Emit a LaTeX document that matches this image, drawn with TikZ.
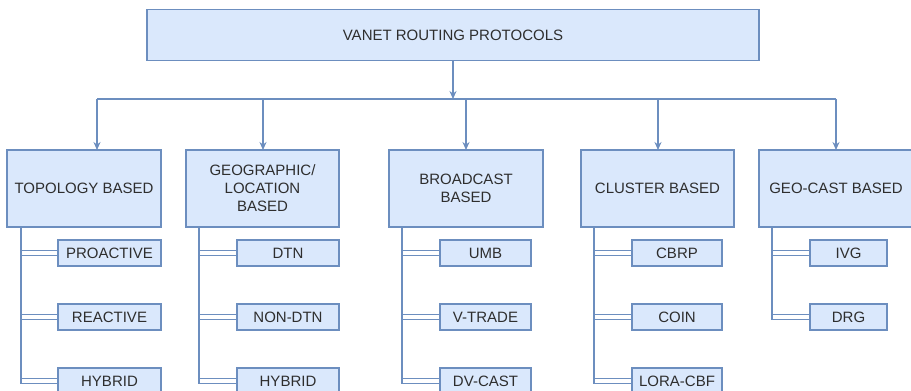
\documentclass[tikz,border=0pt]{standalone}
\usepackage{fontspec}
\setmainfont{Liberation Sans}
\usetikzlibrary{arrows.meta}
\definecolor{boxfill}{HTML}{DAE8FC}
\definecolor{boxline}{HTML}{6C8EBF}
\definecolor{txt}{HTML}{2E2E2E}
\begin{document}
\begin{tikzpicture}[x=1pt,y=-1pt,
  box/.style={draw=boxline, fill=boxfill, line width=1.2pt, text=txt,
    font=\fontsize{15}{18}\selectfont, align=center, inner sep=0pt, outer sep=0pt},
  top/.style={box, minimum width=612pt, minimum height=51pt},
  cat/.style={box, minimum width=154pt, minimum height=77pt},
  kid/.style={box, minimum height=26pt},
  ln/.style={draw=boxline, line width=1.3pt},
  arr/.style={ln, -{Stealth[length=8pt,width=7pt]}}]
\useasboundingbox (0,0) rectangle (911,391);
\clip (0,0) rectangle (911,391);
\fill[white] (0,0) rectangle (911,391);

\node[top] (root) at (453,35) {VANET ROUTING PROTOCOLS};

\node[cat] (topo) at (84,188.5) {TOPOLOGY BASED};
\node[cat, minimum width=153pt] (geo) at (262.5,188.5) {GEOGRAPHIC/\\LOCATION\\BASED};
\node[cat] (bc) at (466,188.5) {BROADCAST\\BASED};
\node[cat, minimum width=153pt] (cl) at (657.5,188.5) {CLUSTER BASED};
\node[cat] (gc) at (836,188.5) {GEO-CAST BASED};

% bus
\coordinate (bus) at (453,99);
\coordinate (b1) at (97,99);
\coordinate (b2) at (263,99);
\coordinate (b3) at (466,99);
\coordinate (b4) at (658,99);
\coordinate (b5) at (836,99);
\draw[arr] (root.south) -- (root.south |- bus);
\draw[ln] (b1) -- (b5);
\draw[arr] (b1) -- (b1 |- topo.north);
\draw[arr] (b2) -- (b2 |- geo.north);
\draw[arr] (b3) -- (b3 |- bc.north);
\draw[arr] (b4) -- (b4 |- cl.north);
\draw[arr] (b5) -- (b5 |- gc.north);

% children
\node[kid, minimum width=103pt] (t1) at (109.5,253) {PROACTIVE};
\node[kid, minimum width=103pt] (t2) at (109.5,317) {REACTIVE};
\node[kid, minimum width=103pt] (t3) at (109.5,381) {HYBRID};

\node[kid, minimum width=102pt] (g1) at (288,253) {DTN};
\node[kid, minimum width=102pt] (g2) at (288,317) {NON-DTN};
\node[kid, minimum width=102pt] (g3) at (288,381) {HYBRID};

\node[kid, minimum width=91pt] (c1) at (485.5,253) {UMB};
\node[kid, minimum width=91pt] (c2) at (485.5,317) {V-TRADE};
\node[kid, minimum width=91pt] (c3) at (485.5,381) {DV-CAST};

\node[kid, minimum width=90pt] (k1) at (677,253) {CBRP};
\node[kid, minimum width=90pt] (k2) at (677,317) {COIN};
\node[kid, minimum width=90pt] (k3) at (677,381) {LORA-CBF};

\node[kid, minimum width=77pt] (e1) at (848.5,253) {IVG};
\node[kid, minimum width=77pt] (e2) at (848.5,317) {DRG};

\coordinate (tv) at (21,227);
\coordinate (gv) at (199,227);
\coordinate (cv) at (402,227);
\coordinate (kv) at (594,227);
\coordinate (ev) at (772,227);

\foreach \v/\k in {tv/t1,tv/t2,tv/t3,gv/g1,gv/g2,gv/g3,cv/c1,cv/c2,cv/c3,kv/k1,kv/k2,kv/k3,ev/e1,ev/e2}{
  \draw[ln] (\v) |- ([yshift=2.5pt]\k.west);
  \draw[ln] (\v) |- ([yshift=-2.5pt]\k.west);
}
\end{tikzpicture}
\end{document}
